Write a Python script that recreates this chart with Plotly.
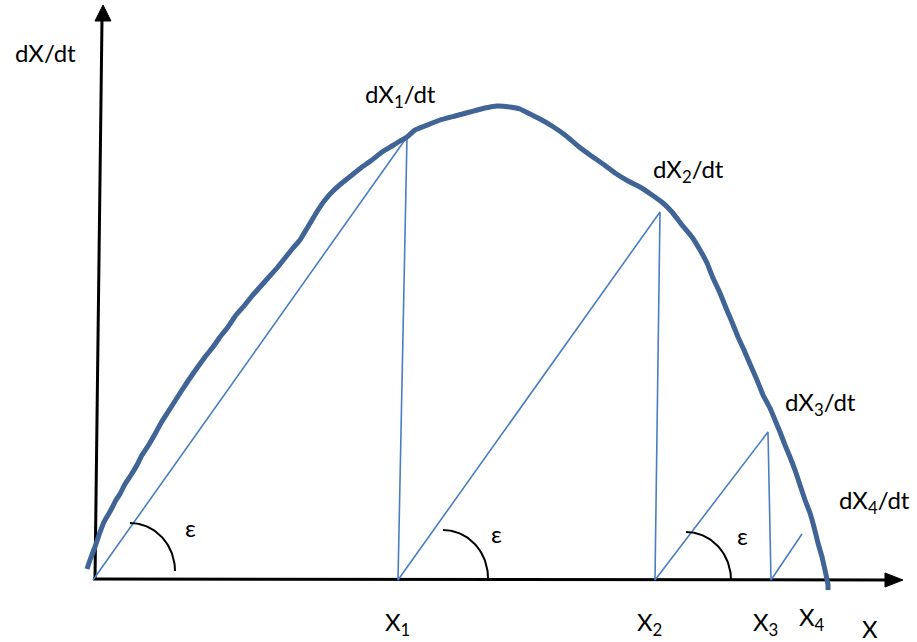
import numpy as np
import plotly.graph_objects as go

# Growth-rate curve dX/dt as a function of X (hand-drawn shape)
curve_x = [-6, -3, 2, 6, 11, 15, 19, 23, 27, 32, 38, 44, 49, 55, 62, 68, 75, 82, 89, 97,
           104, 112, 120, 127, 135, 143, 151, 159, 167, 175, 184, 192, 200, 207, 213, 219,
           225, 232, 240, 249, 259, 269, 279, 289, 299, 307, 314, 322, 332, 347, 362, 377,
           392, 404, 417, 427, 437, 447, 459, 472, 485, 497, 510, 522, 535, 547, 559, 570,
           579, 589, 599, 607, 614, 620, 627, 633, 639, 645, 651, 657, 664, 670, 677, 682,
           687, 692, 697, 702, 707, 712, 717, 721, 725, 729, 732, 735, 735]
curve_y = [11, 20, 33, 45, 58, 65, 72, 80, 86, 96, 105, 115, 125, 134, 146, 157, 168, 179,
           190, 202, 212, 223, 233, 243, 253, 265, 274, 284, 293, 302, 312, 322, 332, 340,
           350, 360, 370, 380, 389, 397, 405, 413, 420, 428, 434, 439, 443, 450, 454, 460,
           464, 468, 472, 474, 473, 471, 466, 461, 454, 445, 434, 425, 416, 407, 399, 393,
           385, 377, 368, 355, 343, 330, 317, 302, 287, 272, 258, 243, 230, 216, 200, 185,
           172, 160, 148, 135, 123, 110, 95, 80, 67, 53, 37, 23, 10, -5, -10]

# Successive states X1..X4 and the rates dX/dt reached from each one
x_states = [0, 305, 562, 678]
rate_x = [314, 567, 675, 709]
rate_y = [443, 368, 148, 46]

# Angle markers (epsilon) next to each sloped line
eps_cx = [37, 350, 593]
eps_cy = [9, 2, 0]
eps_rx, eps_ry = 45, 48
eps_label_x = [97, 403, 649]
eps_label_y = [53, 47, 45]

# Axis extents (tip of each arrow)
x_axis_end = 810
y_axis_top = 575

axis_title_y = ("dX/dt", -48, 528)
rate_labels = ["dX<sub>1</sub>/dt", "dX<sub>2</sub>/dt", "dX<sub>3</sub>/dt", "dX<sub>4</sub>/dt"]
rate_label_pos = [(307, 485), (595, 410), (727, 177), (781, 79)]
state_labels = ["X<sub>1</sub>", "X<sub>2</sub>", "X<sub>3</sub>", "X<sub>4</sub>", "X"]
state_label_pos = [(304, -43), (556, -43), (672, -43), (719, -38), (777, -48)]

THICK = "#3f6495"
THIN = "#4a7ec0"
FONT = "Lato"

fig = go.Figure()


def add_line(x, y, color, width, **kw):
    fig.add_trace(go.Scatter(x=x, y=y, mode="lines", line=dict(color=color, width=width, **kw),
                             hoverinfo="skip"))


# Axes with filled arrowheads
add_line([0, x_axis_end - 15], [1, 0], "black", 3)
add_line([2, 9], [0, y_axis_top - 14], "black", 3)
fig.add_trace(go.Scatter(x=[x_axis_end - 18, x_axis_end, x_axis_end - 18, x_axis_end - 18],
                         y=[7, 0, -7, 7], fill="toself", fillcolor="black", mode="lines",
                         line=dict(color="black", width=1), hoverinfo="skip"))
fig.add_trace(go.Scatter(x=[2, 10, 18, 2],
                         y=[y_axis_top - 16, y_axis_top, y_axis_top - 16, y_axis_top - 16],
                         fill="toself", fillcolor="black", mode="lines",
                         line=dict(color="black", width=1), hoverinfo="skip"))

# Construction lines: X_n -> dX_n/dt -> X_(n+1)
lx, ly = [], []
for i, (xs, rx, ry) in enumerate(zip(x_states, rate_x, rate_y)):
    if i == 0:
        lx.append(xs)
        ly.append(0)
    lx += [rx]
    ly += [ry]
    if i + 1 < len(x_states):
        lx.append(x_states[i + 1])
        ly.append(0)
add_line(lx, ly, THIN, 1.6)

# Epsilon arcs
t = np.linspace(0, np.pi / 2, 40)
for cx, cy in zip(eps_cx, eps_cy):
    add_line(cx + eps_rx * np.sin(t), cy + eps_ry * np.cos(t), "black", 2)

# The curve itself
add_line(curve_x, curve_y, THICK, 5, shape="spline", smoothing=0.3)

ann = [dict(x=axis_title_y[1], y=axis_title_y[2], text=axis_title_y[0])]
for txt, (x, y) in zip(rate_labels, rate_label_pos):
    ann.append(dict(x=x, y=y, text=txt))
for txt, (x, y) in zip(state_labels, state_label_pos):
    ann.append(dict(x=x, y=y, text=txt))
for x, y in zip(eps_label_x, eps_label_y):
    ann.append(dict(x=x, y=y, text="ε"))
for a in ann:
    a.update(showarrow=False, xref="x", yref="y", xanchor="center", yanchor="middle",
             font=dict(family=FONT, size=24, color="black"))

fig.update_layout(
    width=917, height=642,
    margin=dict(l=0, r=0, t=0, b=0),
    paper_bgcolor="white", plot_bgcolor="white",
    showlegend=False,
    annotations=ann,
    xaxis=dict(range=[-93, 824], visible=False, fixedrange=True),
    yaxis=dict(range=[-62, 580], visible=False, fixedrange=True),
)

fig.write_html("out.html")
